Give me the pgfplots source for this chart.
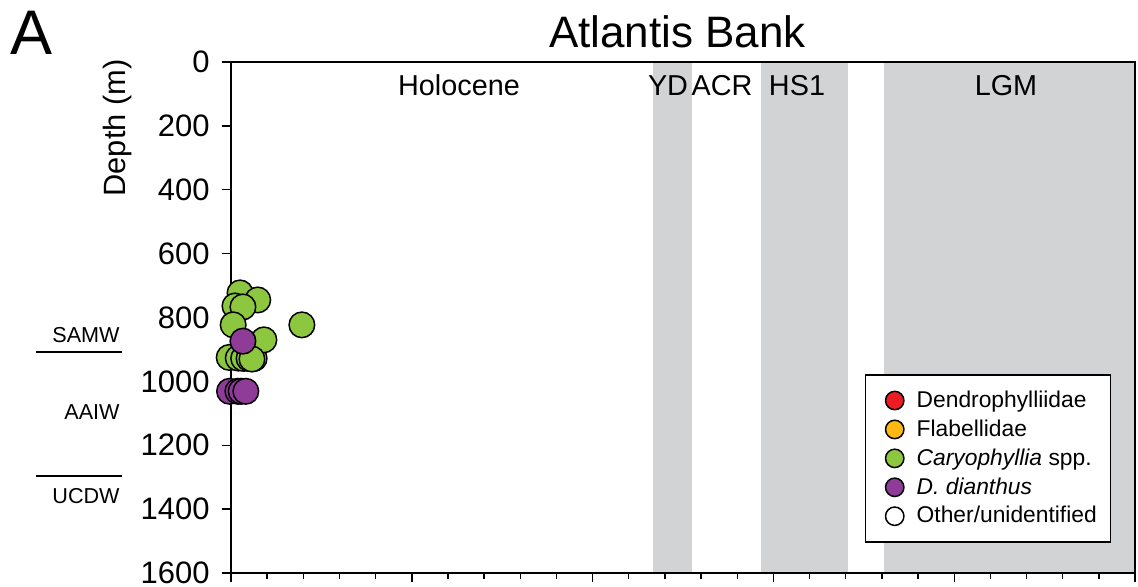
\documentclass[border=0pt]{standalone}
\usepackage{pgfplots}
\pgfplotsset{compat=1.18}
\usepackage{fontspec}
\setmainfont{Liberation Sans}
\definecolor{periodgray}{RGB}{209,211,212}
\definecolor{cred}{RGB}{237,28,36}
\definecolor{corange}{RGB}{253,185,19}
\definecolor{cgreen}{RGB}{141,198,63}
\definecolor{cpurple}{RGB}{142,60,151}
\begin{document}
\begin{tikzpicture}
\begin{axis}[
  at={(0,0)}, anchor=south west,
  scale only axis, width=452pt, height=255.5pt,
  xmin=0, xmax=25, ymin=0, ymax=1600, y dir=reverse,
  clip=false,
  axis line style={line width=0.8pt},
  xtick={0,5,...,25}, minor xtick={0,1,...,25}, xticklabels={},
  ytick={0,200,...,1600},
  xtick pos=left, ytick pos=left,
  tick align=outside,
  major tick length=4.5pt, minor tick length=3pt,
  every tick/.style={black, line width=0.7pt},
  /pgf/number format/assume math mode=true,
  /pgf/number format/1000 sep={},
  yticklabel style={font=\fontsize{15.5}{18}\selectfont, inner sep=1pt, xshift=-5pt},
  legend cell align=left,
  legend image code/.code={\path[draw=none,fill=none] (0pt,-1pt) rectangle (18.5pt,1pt); \draw[#1] plot coordinates {(9.5pt,0pt)};},
  legend style={at={(0.7013,0.3894)}, anchor=north west, draw=black, line width=0.75pt,
    fill=white, font=\fontsize{11.4}{13}\selectfont, row sep=0.7pt, inner xsep=5pt, inner ysep=6pt},
]
% shaded periods
\fill[periodgray] (axis cs:11.68,0) rectangle (axis cs:12.76,1600);
\fill[periodgray] (axis cs:14.67,0) rectangle (axis cs:17.05,1600);
\fill[periodgray] (axis cs:18.05,0) rectangle (axis cs:25,1600);
\draw[line width=0.8pt] (rel axis cs:0,0) rectangle (rel axis cs:1,1);
% legend entries
\addlegendimage{only marks, mark=*, mark size=4.6pt, mark options={fill=cred, draw=black, line width=0.75pt}}
\addlegendentry{Dendrophylliidae}
\addlegendimage{only marks, mark=*, mark size=4.6pt, mark options={fill=corange, draw=black, line width=0.75pt}}
\addlegendentry{Flabellidae}
\addlegendimage{only marks, mark=*, mark size=4.6pt, mark options={fill=cgreen, draw=black, line width=0.75pt}}
\addlegendentry{\textit{Caryophyllia} spp.}
\addlegendimage{only marks, mark=*, mark size=4.6pt, mark options={fill=cpurple, draw=black, line width=0.75pt}}
\addlegendentry{\textit{D. dianthus}}
\addlegendimage{only marks, mark=*, mark size=4.6pt, mark options={fill=white, draw=black, line width=0.75pt}}
\addlegendentry{Other/unidentified}
% data
\addplot[forget plot, only marks, mark=*, mark size=6.4pt, mark options={fill=corange, draw=black, line width=0.75pt}]
  coordinates {(0.64,928)};
\addplot[forget plot, only marks, mark=*, mark size=6.4pt, mark options={fill=cgreen, draw=black, line width=0.75pt}]
  coordinates {(0.25,723) (0.74,745) (0.11,764) (0.33,767) (0.06,823) (1.96,823) (0.91,870)
   (-0.05,925) (0.20,927) (0.35,928) (0.50,928) (0.58,930)};
\addplot[forget plot, only marks, mark=*, mark size=6.4pt, mark options={fill=cpurple, draw=black, line width=0.75pt}]
  coordinates {(0.33,874) (-0.04,1031) (0.19,1031) (0.28,1031) (0.41,1031)};
\end{axis}
% period labels
\begin{scope}[every node/.style={font=\fontsize{14.4}{16}\selectfont, anchor=base, inner sep=0pt}]
\node at (114pt,238.5pt) {Holocene};
\node at (218.5pt,238.5pt) {YD};
\node at (245.5pt,238.5pt) {ACR};
\node at (283pt,238.5pt) {HS1};
\node at (387.5pt,238.5pt) {LGM};
\end{scope}
\node[font=\fontsize{22}{26}\selectfont, anchor=base, inner sep=0pt] at (223.25pt,262.5pt) {Atlantis Bank};
\node[font=\fontsize{31.5}{36}\selectfont, anchor=base west, inner sep=0pt] at (-110.5pt,259pt) {A};
\node[font=\fontsize{15.4}{18}\selectfont, rotate=90, inner sep=0pt] at (-56.5pt,222.5pt) {Depth (m)};
% water masses
\begin{scope}[every node/.style={font=\fontsize{10.8}{13}\selectfont, anchor=base east, inner sep=0pt}]
\node at (-55.5pt,115pt) {SAMW};
\node at (-55.5pt,76.5pt) {AAIW};
\node at (-55.5pt,34.5pt) {UCDW};
\end{scope}
\draw[line width=0.8pt] (-97.5pt,110.5pt) -- (-54.5pt,110.5pt);
\draw[line width=0.8pt] (-97.5pt,48.5pt) -- (-54.5pt,48.5pt);
\pgfresetboundingbox
\path[use as bounding box] (-115.5pt,-7pt) rectangle (453.5pt,286.5pt);
\end{tikzpicture}
\end{document}
